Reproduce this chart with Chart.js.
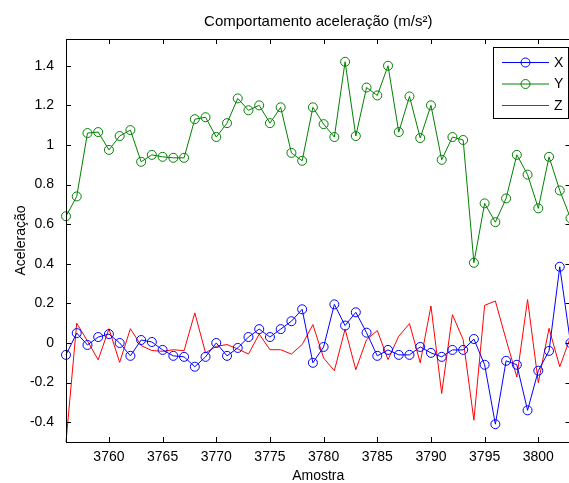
<!DOCTYPE html>
<html>
<head>
<meta charset="utf-8">
<script src="https://cdn.jsdelivr.net/npm/chart.js@4/dist/chart.umd.min.js"></script>
<style>
  html, body { margin: 0; padding: 0; background: #fff; overflow: hidden; }
  #wrap { width: 576px; height: 483px; }
</style>
</head>
<body>
<div id="wrap"><canvas id="accel-chart" width="576" height="483"></canvas></div>
<script>
// Amostras (eixo x)
const samples = [
  3756, 3757, 3758, 3759, 3760, 3761, 3762, 3763, 3764, 3765, 3766, 3767,
  3768, 3769, 3770, 3771, 3772, 3773, 3774, 3775, 3776, 3777, 3778, 3779,
  3780, 3781, 3782, 3783, 3784, 3785, 3786, 3787, 3788, 3789, 3790, 3791,
  3792, 3793, 3794, 3795, 3796, 3797, 3798, 3799, 3800, 3801, 3802, 3803,
];

const accX = [
  -0.06, 0.05, -0.01, 0.03, 0.045, 0.0, -0.065, 0.015, 0.005, -0.035, -0.065, -0.07,
  -0.12, -0.07, 0.0, -0.065, -0.025, 0.03, 0.07, 0.03, 0.07, 0.11, 0.17, -0.1,
  -0.02, 0.195, 0.088, 0.155, 0.052, -0.065, -0.035, -0.06, -0.06, -0.02, -0.05, -0.07,
  -0.035, -0.035, 0.02, -0.11, -0.41, -0.09, -0.11, -0.34, -0.14, -0.04, 0.385, 0.0,
];

const accY = [
  0.64, 0.74, 1.06, 1.065, 0.975, 1.045, 1.075, 0.915, 0.95, 0.94, 0.935, 0.935,
  1.13, 1.14, 1.04, 1.11, 1.235, 1.175, 1.2, 1.11, 1.19, 0.96, 0.92, 1.19,
  1.105, 1.04, 1.42, 1.045, 1.29, 1.25, 1.4, 1.065, 1.245, 1.035, 1.2, 0.925,
  1.04, 1.025, 0.405, 0.705, 0.61, 0.73, 0.95, 0.85, 0.68, 0.94, 0.77, 0.63,
];

const accZ = [
  -0.5, 0.1, 0.01, -0.085, 0.072, -0.098, 0.072, -0.013, -0.038, -0.042, -0.034, -0.039,
  0.152, -0.05, -0.017, -0.008, -0.03, -0.056, 0.045, -0.034, -0.034, -0.056, -0.008, 0.093,
  -0.076, -0.14, 0.07, -0.135, 0.017, 0.063, -0.084, 0.034, 0.098, -0.1, 0.187, -0.255,
  0.143, 0.017, -0.39, 0.19, 0.212, 0.017, -0.172, 0.219, -0.2, 0.074, -0.12, 0.03,
];

const seriesNames = ["X", "Y", "Z"];
const xTicks = [3760, 3765, 3770, 3775, 3780, 3785, 3790, 3795, 3800];
const yTicks = [-0.4, -0.2, 0, 0.2, 0.4, 0.6, 0.8, 1, 1.2, 1.4];

const FONT = "'Liberation Sans', Arial, sans-serif";
const BLUE = "#0000ff";
const GREEN = "#008000";
const RED = "#ff0000";

const toPoints = (vals) => samples.map((s, i) => ({ x: s, y: vals[i] }));

// caixa estilo matlab: borda, ticks para dentro e legenda
const matlabBox = {
  id: "matlabBox",
  afterDatasetsDraw(chart) {
    const { ctx, chartArea: a, scales } = chart;
    const sx = scales.x;
    const sy = scales.y;
    ctx.save();
    ctx.strokeStyle = "#000";
    ctx.lineWidth = 1;

    ctx.beginPath();
    xTicks.forEach((v) => {
      const px = Math.round(sx.getPixelForValue(v)) + 0.5;
      ctx.moveTo(px, a.bottom);
      ctx.lineTo(px, a.bottom - 5);
      ctx.moveTo(px, a.top);
      ctx.lineTo(px, a.top + 5);
    });
    yTicks.forEach((v) => {
      const py = Math.round(sy.getPixelForValue(v)) + 0.5;
      ctx.moveTo(a.left, py);
      ctx.lineTo(a.left + 5, py);
      ctx.moveTo(a.right, py);
      ctx.lineTo(a.right - 5, py);
    });
    ctx.stroke();
    ctx.strokeRect(
      Math.round(a.left) + 0.5,
      Math.round(a.top) + 0.5,
      Math.round(a.right - a.left),
      Math.round(a.bottom - a.top)
    );

    // legenda
    const lx = 493.5;
    const ly = 47.5;
    const lw = a.right - 2 - lx;
    const lh = 71;
    ctx.fillStyle = "#fff";
    ctx.fillRect(lx, ly, lw, lh);
    ctx.strokeRect(lx, ly, lw, lh);

    const colors = [BLUE, GREEN, RED];
    const rows = [62, 83.5, 105];
    ctx.font = "14px " + FONT;
    ctx.textBaseline = "middle";
    ctx.textAlign = "left";
    seriesNames.forEach((name, i) => {
      const ry = rows[i] + 0.5;
      ctx.strokeStyle = colors[i];
      ctx.beginPath();
      ctx.moveTo(502, ry);
      ctx.lineTo(549, ry);
      ctx.stroke();
      if (i < 2) {
        ctx.beginPath();
        ctx.arc(525.5, ry, 4.5, 0, Math.PI * 2);
        ctx.stroke();
      }
      ctx.fillStyle = "#000";
      ctx.fillText(name, 554, rows[i] + 1);
    });
    ctx.restore();
  },
};

const lineStyle = (color, withMarker) => ({
  borderColor: color,
  backgroundColor: color,
  borderWidth: 1,
  tension: 0,
  fill: false,
  pointRadius: withMarker ? 4.5 : 0,
  pointBorderWidth: 1,
  pointBorderColor: color,
  pointBackgroundColor: "rgba(0,0,0,0)",
  clip: 6,
});

const ctx = document.getElementById("accel-chart").getContext("2d");

new Chart(ctx, {
  type: "line",
  data: {
    datasets: [
      { label: seriesNames[0], data: toPoints(accX), ...lineStyle(BLUE, true) },
      { label: seriesNames[1], data: toPoints(accY), ...lineStyle(GREEN, true) },
      { label: seriesNames[2], data: toPoints(accZ), ...lineStyle(RED, false) },
    ],
  },
  options: {
    responsive: false,
    animation: false,
    layout: { padding: { left: 0, right: 5, top: 0, bottom: 0 } },
    plugins: {
      legend: { display: false },
      tooltip: { enabled: false },
      title: {
        display: true,
        fullSize: false,
        text: "Comportamento aceleração (m/s²)",
        color: "#000",
        font: { size: 15, weight: "normal", family: FONT, lineHeight: 1.2 },
        padding: { top: 13, bottom: 8 },
      },
    },
    scales: {
      x: {
        type: "linear",
        min: 3756,
        max: 3803,
        afterFit: (s) => { s.height = 41; },
        afterBuildTicks: (s) => { s.ticks = xTicks.map((v) => ({ value: v })); },
        grid: { display: false, drawTicks: false },
        border: { display: false },
        ticks: {
          color: "#000",
          padding: 7,
          autoSkip: false,
          maxRotation: 0,
          font: { size: 14, family: FONT, lineHeight: 1.2 },
          callback: (v) => String(v),
        },
        title: {
          display: true,
          text: "Amostra",
          color: "#000",
          padding: { top: 0, bottom: 0 },
          font: { size: 14, family: FONT, lineHeight: 1 },
        },
      },
      y: {
        min: -0.5,
        max: 1.535,
        afterFit: (s) => { s.width = 66; },
        afterBuildTicks: (s) => { s.ticks = yTicks.map((v) => ({ value: v })); },
        grid: { display: false, drawTicks: false },
        border: { display: false },
        ticks: {
          color: "#000",
          padding: 12,
          autoSkip: false,
          font: { size: 14, family: FONT, lineHeight: 1.2 },
          callback: (v) => String(v),
        },
        title: {
          display: true,
          text: "Aceleração",
          color: "#000",
          padding: { top: 13, bottom: 0 },
          font: { size: 14, family: FONT, lineHeight: 1.2 },
        },
      },
    },
  },
  plugins: [matlabBox],
});
</script>
</body>
</html>
